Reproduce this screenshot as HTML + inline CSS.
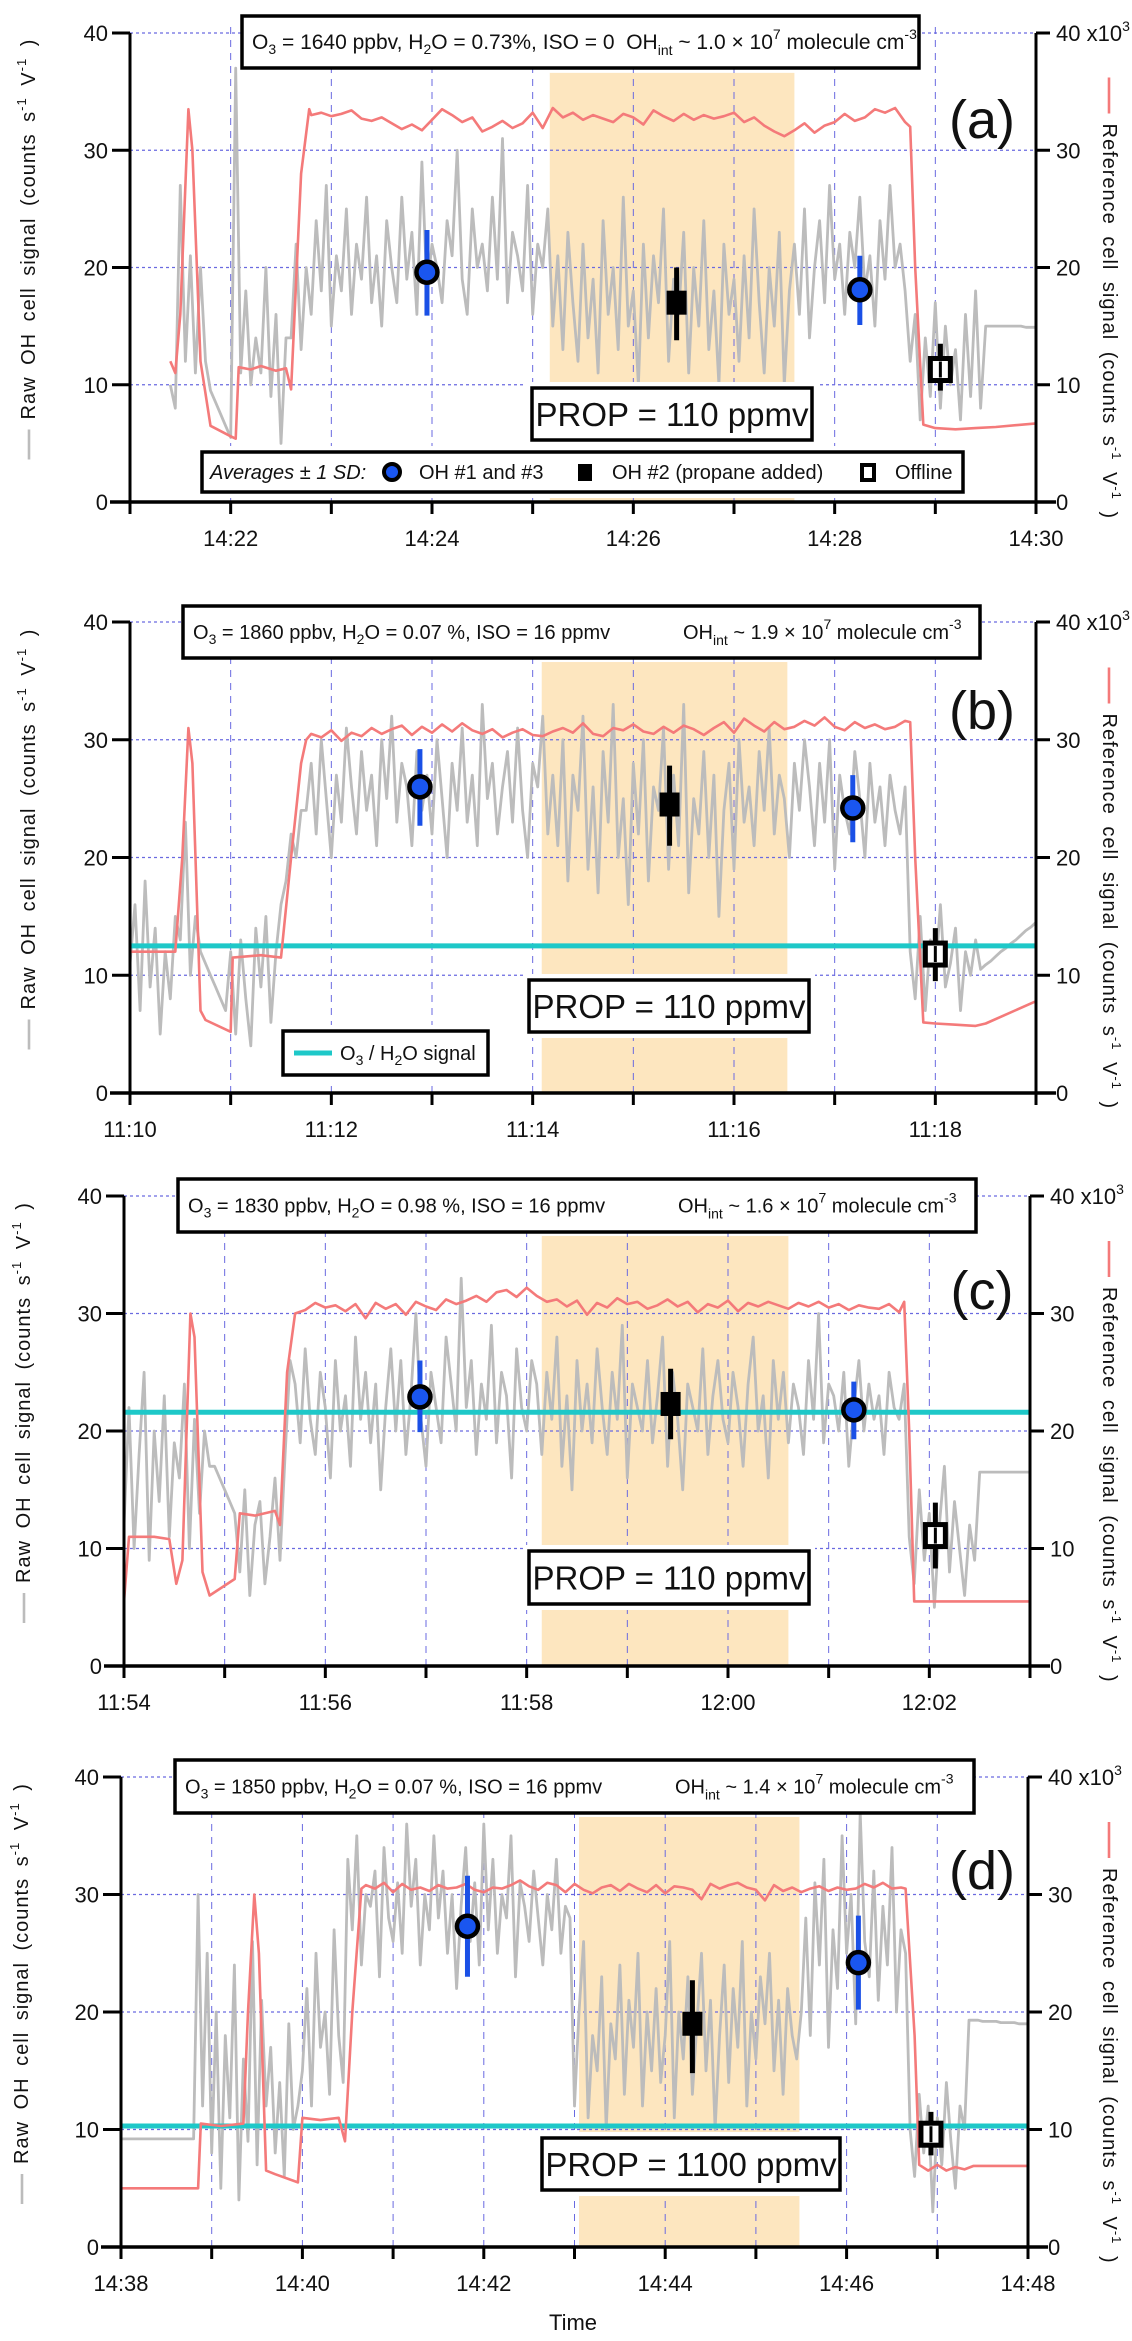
<!DOCTYPE html>
<html><head><meta charset="utf-8"><title>OH signal panels</title>
<style>
html,body{margin:0;padding:0;background:#fff;}
svg{display:block;font-family:"Liberation Sans",Arial,sans-serif;}
</style></head>
<body>
<svg id="chart" width="1132" height="2341" viewBox="0 0 1132 2341" xmlns="http://www.w3.org/2000/svg"></svg>
<script>
// ---------- DATA (top level) ----------
const grayA_start = 0.4;
const grayA = [10,8,27,12,21,11,20,12, 9.5,8.5,7.5,6.5,5.5, 37,11,18,10,14,11,20,9,16,5,14,
14,22,13,20,16,24,18,27,15,21, 18,25,16,22,19,26,17,21,15,24, 20,17,26,19,23,16,29,18,22,20,
17,24,21,30,19,16,25,20,22,18, 26,19,31,17,23,21,18,27,16,22, 20,25,15,21,13,23,17,12,22,14,
19,11,24,16,20,13,26,15,18,10, 22,14,21,17,25,12,19,16,23,11, 20,15,24,13,18,10,22,16,19,12,
21,14,25,17,11,20,15,23,10,18, 22,16,25,14,20,24,17,27,19,22, 16,23,20,26,18,21,15,24,19,27, 20,22,18,
12,16,7,14,9,17,8,15,10,13,7,16,9,18,8, 15,15,15,15,15,15,15,15,14.9,14.9,14.9];
const grayB_start = 0;
const grayB = [11,16,7,18,9,14,5,12,8,15, 13,23,10,15, 12,11,10,9,8,7, 12,5,13,8,4,14,9,15,6,12,16, 18,22,20,24,
24,28,22,30,25,20,27,23,31,26, 22,29,24,27,21,30,25,32,23,28, 26,21,29,24,27,22,30,25,20,28,
24,31,23,27,21,33,25,28,22,26, 29,23,31,24,20,28,26,32,22,27, 21,30,18,27,24,32,19,26,17,29,
23,33,20,25,16,28,22,30,18,26, 24,31,19,27,21,33,17,25,22,29, 20,27,15,24,28,19,30,23,26,21,
29,24,31,22,27,25,20,28,24,30, 26,21,28,23,30,19,27,24,22,29, 25,20,28,23,26,21,27,24,22,26,
12,8,15,7,13,10,16,9,11,14,7,12,10,13, 10.5,10.9,11.2,11.6,12,12.3,12.7,13,13.4,13.8,14.1,14.5];
const grayC_start = 0;
const grayC = [12,22,10,18,25,9,20,14,23,11,19,16,24,10,21,13,20,17, 17,16,15,14, 13,8,15,6,12,14,7,11,16,9, 18,26,
24,19,27,21,18,25,22,16,26,20, 23,17,28,21,25,19,24,15,22,27, 20,26,18,23,30,21,17,25,22,19,
28,24,20,33,22,26,18,24,21,29, 19,25,23,16,27,22,20,26,24,18, 25,21,28,17,23,15,26,20,24,19,
27,22,18,25,21,29,16,24,22,20, 26,19,23,28,17,25,21,15,24,22, 20,27,18,23,26,21,19,25,22,17,
24,28,20,23,16,26,21,25,19,24, 22,18,26,21,30,19,24,23,20,25, 17,22,26,20,24,21,23,18,25,22, 21,24,
11,7,15,9,13,5,12,17,8,14,10,6,12,9, 16.5,16.5,16.5,16.5,16.5,16.5,16.5,16.5,16.5,16.5,16.5];
const grayD_start = 0;
const grayD = [9.2,9.2,9.2,9.2,9.2,9.2,9.2,9.2,9.2,9.2,9.2,9.2,9.2,9.2,9.2,9.2,9.2,
30,12,25,8,20,5,18,11,24,4,16,9,26,7,21,12,17,8,14,6,19,10,12,
15,22,12,25,17,20,13,27,18,14,
33,27,35,24,30,29,32,23,34,28, 26,31,25,36,29,33,24,30,27,35, 28,32,25,30,22,29,34,26,31,24,
36,27,33,25,30,28,35,23,31,29, 26,32,28,24,30,27,33,25,29,28,
12,20,26,11,18,15,23,10,19,16, 24,13,21,17,25,12,20,15,22,14, 18,26,11,20,16,23,13,19,25,15,
21,10,18,24,14,22,17,26,12,20, 16,23,19,25,15,21,13,22,18,16,
20,28,18,31,24,33,17,27,22,35,25,30,19,37,26,23,32,21,29,24,34,20,27,25,
10,6,13,8,12,3,11,7,14,9,5,12,10,
19.3,19.3,19.3,19.2,19.2,19.2,19.2,19.1,19.1,19.1,19.1,19,19,19];

const redA_pre = [[0.4,12],[0.45,11],[0.5,16],[0.58,33.5],[0.62,30],[0.7,12],[0.8,6.5],[1.0,5.6],[1.05,5.4],[1.08,11.5],[1.2,11.3],[1.3,11.6],[1.45,11.2],[1.55,11.4],[1.6,9.6],[1.7,28],[1.78,33.5]];
const redA_platStart = 1.8;
const redA_plat = [33,33.2,32.9,33.1,33.4,32.7,32.5,32.8,32.3,31.8,32.2,31.7,32.6,33.5,33,32.4,32.8,31.6,32,32.5,
31.9,32.3,33.2,31.9,33.6,32.8,33.2,32.6,33,32.7,32.4,33.1,32.8,32.2,33.4,32.9,32.5,33.1,32.6,33,
32.7,32.9,33.2,32.4,32.8,32.1,31.6,31.2,31.7,32.3,31.5,32.1,32.4,33.1,32.5,32.8,33.5,33.2,33.6,32.4];
const redA_post = [[7.75,32],[7.8,20],[7.88,6.6],[8,6.3],[8.2,6.2],[8.4,6.3],[8.6,6.4],[9,6.7]];

const redB_pre = [[0,12],[0.3,12],[0.45,12],[0.52,20],[0.58,31],[0.62,28],[0.7,7],[0.75,6.2],[1.0,5.2],[1.02,11.5],[1.3,11.7],[1.5,11.5],[1.6,20],[1.7,28],[1.75,30]];
const redB_platStart = 1.8;
const redB_plat = [30.5,30.2,30.8,29.9,30.6,30.3,31,30.5,30.9,31.2,30.4,31.1,30.6,31.3,30.7,31.4,30.8,30.5,30.9,30.2,
30.6,30.9,30.4,30.3,30.7,31,30.6,31.4,30.5,30.3,31,30.8,31.3,30.7,30.5,31.1,30.6,31.2,30.9,30.4,
31,31.5,30.6,31.8,31.2,30.7,31.5,30.9,31.1,31.6,31.2,31.9,31.1,30.8,31.5,31,31.3,30.9,31.1,31.6];
const redB_post = [[7.75,31.5],[7.8,20],[7.88,6],[8,5.9],[8.2,5.8],[8.4,5.7],[8.5,5.9],[9,7.8]];

const redC_pre = [[0,5.5],[0.05,11],[0.3,11],[0.45,10.8],[0.52,7],[0.58,9],[0.66,30],[0.7,28],[0.78,8],[0.85,6],[1.1,7.4],[1.15,13],[1.3,12.8],[1.5,13.2],[1.55,12],[1.62,25],[1.7,30]];
const redC_platStart = 1.8;
const redC_plat = [30.3,30.9,30.5,30.7,30.2,30.8,29.6,30.9,30.4,30.8,29.9,31,30.6,30.3,31.2,30.8,31.1,31.5,31,31.8,
32,31.4,32.2,31.5,31,31.2,30.6,31.1,29.9,30.9,30.5,31.3,30.8,31,30.4,30.7,31.2,30.6,31,30.1,
30.8,30.5,31.1,30.2,30.9,30.6,31,30.7,30.4,30.9,30.6,31,30.5,30.8,30.3,30.7,30.5,30.4,30.8,30.1];
const redC_post = [[7.75,31],[7.8,20],[7.85,5.5],[8,5.5],[9,5.5]];

const redD_pre = [[0,5],[0.85,5],[0.88,10.5],[1.1,10.3],[1.35,10.5],[1.4,20],[1.47,30],[1.52,25],[1.6,6.5],[1.7,6.2],[1.95,5.5],[2.0,11],[2.2,10.8],[2.4,11],[2.47,9],[2.55,20],[2.65,30.5]];
const redD_platStart = 2.7;
const redD_plat = [30.8,30.5,31,30.2,30.9,30.4,30.6,30.3,30.8,30.5,30.6,30.9,30.4,30.2,30.6,30.5,30.8,31.2,30.7,30.4,
31,30.8,30.2,30.9,30.4,30.1,30.6,30.8,30.3,30.9,30.5,30.2,30.8,30.1,30.7,30.6,30.4,29.6,30.9,30.5,
30.8,31,30.6,30.4,29.5,30.8,30.3,30.6,30.2,30.5,30.7,30.3,30.6,30.4,30.5,30.9,30.6,31,30.5,30.6];
const redD_post = [[8.65,30.5],[8.75,18],[8.8,7],[8.9,6.5],[9,7],[9.1,6.5],[9.2,6.8],[9.3,6.6],[9.4,6.9],[10,6.9]];

const avgA = {oh1:[2.95,19.6,15.9,23.2], oh2:[5.43,17,13.8,20], oh3:[7.25,18.1,15.1,21], off:[8.05,11.3,9.5,13.5]};
const avgB = {oh1:[2.88,26,22.7,29.2], oh2:[5.36,24.5,21,27.8], oh3:[7.18,24.2,21.3,27], off:[8.0,11.8,9.5,14]};
const avgC = {oh1:[2.94,22.9,19.9,26], oh2:[5.43,22.3,19.3,25.3], oh3:[7.25,21.8,19.3,24.2], off:[8.06,11.1,8.3,13.9]};
const avgD = {oh1:[3.82,27.3,23,31.6], oh2:[6.3,19,14.8,22.7], oh3:[8.13,24.2,20.2,28.2], off:[8.93,9.6,7.8,11.5]};

const shadeA = [4.17,6.6], shadeB = [4.09,6.53], shadeC = [4.15,6.6], shadeD = [5.05,7.48];
const cyanB = 12.5, cyanC = 21.6, cyanD = 10.3;
const ticksA = ["14:22","14:24","14:26","14:28","14:30"];
const ticksB = ["11:10","11:12","11:14","11:16","11:18"];
const ticksC = ["11:54","11:56","11:58","12:00","12:02"];
const ticksD = ["14:38","14:40","14:42","14:44","14:46","14:48"];
const yTicks = [0,10,20,30,40];

// ---------- LAYOUT ----------
const NS="http://www.w3.org/2000/svg";
const svg=document.getElementById('chart');
function el(tag,attrs,parent){const e=document.createElementNS(NS,tag);for(const k in attrs)e.setAttribute(k,attrs[k]);(parent||svg).appendChild(e);return e;}

const panels=[
 {id:'a',left:130,right:1036,span:9,y0:502,y40:33,gray:grayA,gs:grayA_start,rp:redA_pre,rps:redA_platStart,rpl:redA_plat,rpo:redA_post,avg:avgA,shade:shadeA,cyan:null,ticks:ticksA,tickStart:1,
  info:[242,16,919,68],prop:[532,388,812,440],label:[982,120],legend:true,prop_text:"PROP = 110 ppmv",infoText:0,ytitleX:35},
 {id:'b',left:130,right:1036,span:9,y0:1093,y40:622,gray:grayB,gs:grayB_start,rp:redB_pre,rps:redB_platStart,rpl:redB_plat,rpo:redB_post,avg:avgB,shade:shadeB,cyan:cyanB,ticks:ticksB,tickStart:0,
  info:[183,606,980,658],prop:[529,980,809,1032],label:[982,711],legend2:[283,1031,488,1075],prop_text:"PROP = 110 ppmv",infoText:1,ytitleX:35},
 {id:'c',left:124,right:1030,span:9,y0:1666,y40:1196,gray:grayC,gs:grayC_start,rp:redC_pre,rps:redC_platStart,rpl:redC_plat,rpo:redC_post,avg:avgC,shade:shadeC,cyan:cyanC,ticks:ticksC,tickStart:0,
  info:[178,1179,976,1232],prop:[529,1551,809,1604],label:[982,1291],prop_text:"PROP = 110 ppmv",infoText:2,ytitleX:30},
 {id:'d',left:121,right:1028,span:10,y0:2247,y40:1777,gray:grayD,gs:grayD_start,rp:redD_pre,rps:redD_platStart,rpl:redD_plat,rpo:redD_post,avg:avgD,shade:shadeD,cyan:cyanD,ticks:ticksD,tickStart:0,
  info:[175,1760,974,1813],prop:[542,2138,840,2190],label:[982,1871],prop_text:"PROP = 1100 ppmv",infoText:3,ytitleX:28}
];
const infoTexts=[
 {o3:"1640 ppbv",h2o:"0.73%",iso:"0",oh:"1.0",split:false},
 {o3:"1860 ppbv",h2o:"0.07 %",iso:"16 ppmv",oh:"1.9",split:true},
 {o3:"1830 ppbv",h2o:"0.98 %",iso:"16 ppmv",oh:"1.6",split:true},
 {o3:"1850 ppbv",h2o:"0.07 %",iso:"16 ppmv",oh:"1.4",split:true}
];

function addT(parent,txt,opts){const t=document.createElementNS(NS,'tspan');t.textContent=txt;for(const k in (opts||{}))t.setAttribute(k,opts[k]);parent.appendChild(t);return t;}

panels.forEach(p=>{
 const X=t=>p.left+t*(p.right-p.left)/p.span;
 const Y=v=>p.y0-v*(p.y0-p.y40)/40;
 const g=el('g',{});
 
 

 const sh=el('rect',{x:X(p.shade[0]),y:Y(36.6),width:X(p.shade[1])-X(p.shade[0]),height:Y(0)-Y(36.6),fill:'#fde6bf'},g);
 
 

 for(let m=1;m<p.span;m++){
  const gl=el('line',{x1:X(m),x2:X(m),y1:Y(0),y2:Y(41),stroke:'#6a6ae0','stroke-width':1,'stroke-dasharray':'7,6'},g);
  
  
 }
 [10,20,30,40].forEach(v=>{
  const gl=el('line',{x1:X(0),x2:X(p.span),y1:Y(v),y2:Y(v),stroke:'#6a6ae0','stroke-width':1.2,'stroke-dasharray':'3,3'},g);
  
  
 });

 const gp=p.gray.map((v,i)=>X(p.gs+i*0.05).toFixed(1)+','+Y(v).toFixed(1)).join(' ');
 const gl=el('polyline',{points:gp,fill:'none',stroke:'#bcbcbc','stroke-width':2.8,'stroke-linejoin':'round'},g);
 
 

 if(p.cyan!==null){
  const cl=el('line',{x1:X(0),x2:X(p.span),y1:Y(p.cyan),y2:Y(p.cyan),stroke:'#1ec8c8','stroke-width':5},g);
  
  
 }

 const rpts=[...p.rp,...p.rpl.map((v,i)=>[p.rps+i*0.1,v]),...p.rpo];
 const rl=el('polyline',{points:rpts.map(q=>X(q[0]).toFixed(1)+','+Y(q[1]).toFixed(1)).join(' '),fill:'none',stroke:'#f47a7a','stroke-width':2.6,'stroke-linejoin':'round'},g);
 
 

 function errbar(a,col,name){
  const e=el('line',{x1:X(a[0]),x2:X(a[0]),y1:Y(a[2]),y2:Y(a[3]),stroke:col,'stroke-width':5},g);
  
  
 }
 [['oh1','avg-oh1-marker'],['oh3','avg-oh3-marker']].forEach(([k,n])=>{
  const a=p.avg[k];
  errbar(a,'#1a50e6',n+'-errorbar');
  const c=el('circle',{cx:X(a[0]),cy:Y(a[1]),r:10.5,fill:'#1a56f0',stroke:'#000','stroke-width':4.5},g);
  
  
 });
 {const a=p.avg.oh2; errbar(a,'#000','avg-oh2-errorbar');
  const r=el('rect',{x:X(a[0])-10,y:Y(a[1])-12,width:20,height:24,fill:'#000'},g);
  
  }
 {const a=p.avg.off; errbar(a,'#000','offline-errorbar');
  const r=el('rect',{x:X(a[0])-10,y:Y(a[1])-11,width:20,height:22,fill:'#fff',stroke:'#000','stroke-width':5},g);
  
  
  el('line',{x1:X(a[0]),x2:X(a[0]),y1:Y(a[1])-8,y2:Y(a[1])+8,stroke:'#000','stroke-width':3},g);}

 const ax=el('line',{x1:p.left-20,x2:p.right+20,y1:p.y0,y2:p.y0,stroke:'#000','stroke-width':3.5},g);
 
 
 const ly=el('line',{x1:p.left,x2:p.left,y1:p.y0+12,y2:p.y40,stroke:'#000','stroke-width':3},g);
 
 
 const ry=el('line',{x1:p.right,x2:p.right,y1:p.y0+12,y2:p.y40,stroke:'#000','stroke-width':3},g);
 
 
 yTicks.forEach(v=>{
  el('line',{x1:p.left-18,x2:p.left,y1:Y(v),y2:Y(v),stroke:'#000','stroke-width':3},g);
  el('line',{x1:p.right,x2:p.right+14,y1:Y(v),y2:Y(v),stroke:'#000','stroke-width':3},g);
  const tl=el('text',{x:p.left-22,y:Y(v)+8,'font-size':22,'text-anchor':'end',fill:'#111'},g);
  tl.textContent=String(v);
  
  
  const tr=el('text',{x:p.right+20,y:Y(v)+8,'font-size':22,fill:'#111'},g);
  
  
  tr.textContent=String(v);
  if(v===40){addT(tr,' x10');addT(tr,'3',{'font-size':14,dy:-10});}
 });
 for(let m=0;m<=p.span;m++){
  el('line',{x1:X(m),x2:X(m),y1:p.y0,y2:p.y0+12,stroke:'#000','stroke-width':3},g);
 }
 p.ticks.forEach((s,i)=>{
  const m=p.tickStart+i*2;
  const t=el('text',{x:X(m),y:p.y0+44,'font-size':22,'text-anchor':'middle',fill:'#111'},g);
  t.textContent=s;
  
  
 });

 const cy=(p.y0+p.y40)/2;
 const lt=el('g',{transform:`translate(${p.ytitleX},${cy}) rotate(-90)`},g);
 
 
 el('line',{x1:-192,x2:-162,y1:-6,y2:-6,stroke:'#bcbcbc','stroke-width':2.6},lt);
 const ltt=el('text',{x:-152,y:0,'font-size':20,'word-spacing':5,fill:'#111','letter-spacing':1},lt);
 addT(ltt,'Raw OH cell signal (counts s');addT(ltt,'-1',{'font-size':13,dy:-9});addT(ltt,' V',{dy:9});addT(ltt,'-1',{'font-size':13,dy:-9});addT(ltt,' )',{dy:9});
 const rt=el('g',{transform:`translate(1103,${cy}) rotate(90)`},g);
 
 
 el('line',{x1:-190,x2:-154,y1:-6,y2:-6,stroke:'#f47a7a','stroke-width':2.6},rt);
 const rtt=el('text',{x:-144,y:0,'font-size':20,'word-spacing':5,fill:'#111','letter-spacing':1},rt);
 addT(rtt,'Reference cell signal (counts s');addT(rtt,'-1',{'font-size':13,dy:-9});addT(rtt,' V',{dy:9});addT(rtt,'-1',{'font-size':13,dy:-9});addT(rtt,' )',{dy:9});

 const [ix1,iy1,ix2,iy2]=p.info;
 const ib=el('rect',{x:ix1,y:iy1,width:ix2-ix1,height:iy2-iy1,fill:'#fff',stroke:'#000','stroke-width':3.5},g);
 
 
 const it=infoTexts[p.infoText];
 const fs=it.split?20:21;
 const ty=(iy1+iy2)/2+7;
 const t1=el('text',{x:ix1+10,y:ty,'font-size':fs,fill:'#111'},g);
 
 
 addT(t1,'O');addT(t1,'3',{'font-size':14,dy:5});addT(t1,' = '+it.o3+', H',{dy:-5});addT(t1,'2',{'font-size':14,dy:5});
 addT(t1,'O = '+it.h2o+', ISO = '+it.iso,{dy:-5});
 let t2=t1;
 if(it.split){t2=el('text',{x:ix1+500,y:ty,'font-size':fs,fill:'#111'},g);
  
  
  addT(t2,'OH');}
 else addT(t1,'\u00a0\u00a0OH');
 addT(t2,'int',{'font-size':14,dy:6});addT(t2,' ~ '+it.oh+' × 10',{dy:-6});addT(t2,'7',{'font-size':14,dy:-10});
 addT(t2,' molecule cm',{dy:10});addT(t2,'-3',{'font-size':14,dy:-10});

 const pl=el('text',{x:p.label[0],y:p.label[1]+18,'font-size':54,'text-anchor':'middle',fill:'#111'},g);
 pl.textContent='('+p.id+')';
 
 

 const [px1,py1,px2,py2]=p.prop;
 el('rect',{x:px1-6,y:py1-6,width:px2-px1+12,height:py2-py1+12,fill:'#fff'},g);
 const pb=el('rect',{x:px1,y:py1,width:px2-px1,height:py2-py1,fill:'#fff',stroke:'#000','stroke-width':3.5},g);
 
 
 const pt=el('text',{x:(px1+px2)/2,y:(py1+py2)/2+12,'font-size':33,'text-anchor':'middle',fill:'#111'},g);
 pt.textContent=p.prop_text;
 
 

 if(p.legend){
  el('rect',{x:196,y:446,width:773,height:52,fill:'#fff'},g);
  const lb=el('rect',{x:202,y:452,width:761,height:40,fill:'#fff',stroke:'#000','stroke-width':3.5},g);
  
  
  const lyc=479;
  const l0=el('text',{x:210,y:lyc,'font-size':20,'font-style':'italic',fill:'#111'},g);l0.textContent='Averages ± 1 SD:';
  
  
  const lc=el('circle',{cx:392,cy:472,r:8,fill:'#1a56f0',stroke:'#000','stroke-width':4},g);
  
  
  const l1=el('text',{x:419,y:lyc,'font-size':20,fill:'#111'},g);l1.textContent='OH #1 and #3';
  
  
  el('rect',{x:578,y:464,width:14,height:17,fill:'#000'},g);
  const l2=el('text',{x:612,y:lyc,'font-size':20,fill:'#111'},g);l2.textContent='OH #2 (propane added)';
  
  
  el('rect',{x:862,y:465,width:12,height:15,fill:'#fff',stroke:'#000','stroke-width':4},g);
  const l3=el('text',{x:895,y:lyc,'font-size':20,fill:'#111'},g);l3.textContent='Offline';
  
  
 }
 if(p.legend2){
  const [a1,b1,a2,b2]=p.legend2;
  el('rect',{x:a1-6,y:b1-6,width:a2-a1+12,height:b2-b1+12,fill:'#fff'},g);
  const lb=el('rect',{x:a1,y:b1,width:a2-a1,height:b2-b1,fill:'#fff',stroke:'#000','stroke-width':3.5},g);
  
  
  el('line',{x1:294,x2:332,y1:1053,y2:1053,stroke:'#1ec8c8','stroke-width':5},g);
  const lt2=el('text',{x:340,y:1060,'font-size':20,fill:'#111'},g);
  
  
  addT(lt2,'O');addT(lt2,'3',{'font-size':14,dy:5});addT(lt2,' / H',{dy:-5});addT(lt2,'2',{'font-size':14,dy:5});addT(lt2,'O signal',{dy:-5});
 }
});

const tt=el('text',{x:573,y:2330,'font-size':22,'text-anchor':'middle',fill:'#111'});
tt.textContent='Time';


</script>
</body></html>
